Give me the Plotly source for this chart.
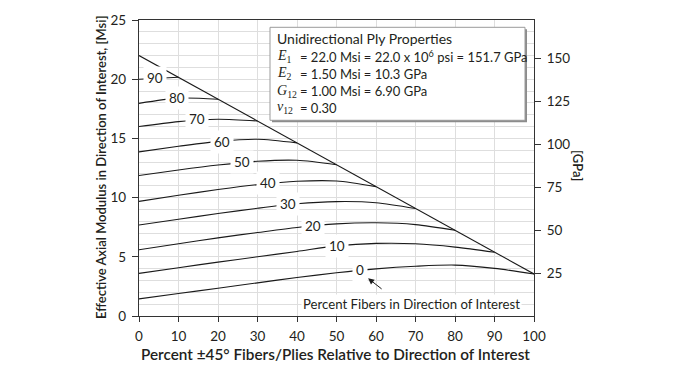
import plotly.graph_objects as go

# ---------------- data ----------------
pct_fibers = [0, 10, 20, 30, 40, 50, 60, 70, 80, 90]
curve_x = {
    0:  [0, 10, 20, 30, 40, 50, 60, 70, 80, 90, 100],
    10: [0, 10, 20, 30, 40, 50, 60, 70, 80, 90],
    20: [0, 10, 20, 30, 40, 50, 60, 70, 80],
    30: [0, 10, 20, 30, 40, 50, 60, 70],
    40: [0, 10, 20, 30, 40, 50, 60],
    50: [0, 10, 20, 30, 40, 50],
    60: [0, 10, 20, 30, 40],
    70: [0, 10, 20, 30],
    80: [0, 10, 20],
    90: [0, 10],
}
curve_y = {
    0:  [1.45, 1.9, 2.35, 2.8, 3.25, 3.65, 3.98, 4.2, 4.3, 4.02, 3.55],
    10: [3.6, 4.08, 4.55, 5.0, 5.45, 5.92, 6.13, 6.1, 5.82, 5.39],
    20: [5.6, 6.1, 6.6, 7.05, 7.48, 7.78, 7.87, 7.72, 7.24],
    30: [7.68, 8.17, 8.65, 9.1, 9.48, 9.66, 9.57, 9.08],
    40: [9.68, 10.2, 10.68, 11.1, 11.38, 11.4, 10.93],
    50: [11.86, 12.33, 12.75, 13.07, 13.15, 12.77],
    60: [13.86, 14.33, 14.75, 14.93, 14.62],
    70: [16.0, 16.42, 16.62, 16.47],
    80: [17.96, 18.4, 18.31],
    90: [20.0, 20.16],
}
# inline label positions (x, y) for each curve
label_x = [56.0, 50.0, 44.1, 37.8, 32.6, 26.2, 21.1, 14.7, 9.5, 4.0]
label_y = [3.86, 5.95, 7.6, 9.42, 11.26, 13.0, 14.72, 16.6, 18.4, 20.1]

limit_x = [0, 100]
limit_y = [22.0, 3.55]

x_ticks = [0, 10, 20, 30, 40, 50, 60, 70, 80, 90, 100]
y_ticks = [0, 5, 10, 15, 20, 25]
gpa_ticks = [25, 50, 75, 100, 125, 150]
MSI_TO_GPA = 6.894757

box_symbols = ["<i>E</i><sub>1</sub>", "<i>E</i><sub>2</sub>", "<i>G</i><sub>12</sub>", "<i>ν</i><sub>12</sub>"]
box_values = ["= 22.0 Msi = 22.0 x 10<sup>6</sup> psi = 151.7 GPa",
              "= 1.50 Msi = 10.3 GPa",
              "= 1.00 Msi = 6.90 GPa",
              "= 0.30"]
box_title = "Unidirectional Ply Properties"

# ---------------- figure ----------------
FONT = "Lato"
TXT = "#231f20"
W, H = 680, 370
L, R, T, B = 139, 146, 12, 54
PW, PH = W - L - R, H - T - B


def px2paper(px, py):
    return (px - L) / PW, (H - B - py) / PH


fig = go.Figure()

fig.add_trace(go.Scatter(x=limit_x, y=limit_y, mode="lines",
                         line=dict(color="#1a1a1a", width=1.1), hoverinfo="skip",
                         showlegend=False))
for p in pct_fibers:
    fig.add_trace(go.Scatter(x=curve_x[p], y=curve_y[p], mode="lines",
                             line=dict(color="#1a1a1a", width=1.1, shape="spline", smoothing=0.8),
                             hoverinfo="skip", showlegend=False))

# dummy trace for the right axis
fig.add_trace(go.Scatter(x=[None], y=[None], yaxis="y2", showlegend=False))

annotations = []
for p, lx, ly in zip(pct_fibers, label_x, label_y):
    annotations.append(dict(x=lx, y=ly, xref="x", yref="y", text=str(p), showarrow=False,
                            xanchor="center", yanchor="middle",
                            font=dict(family=FONT, size=13.5, color=TXT),
                            bgcolor="white", borderpad=3))

# arrow and its caption
annotations.append(dict(x=58.0, y=3.18, ax=61.8, ay=2.19, xref="x", yref="y", axref="x", ayref="y",
                        text="", showarrow=True, arrowhead=2, arrowsize=1.2, arrowwidth=1,
                        arrowcolor="#1a1a1a"))
annotations.append(dict(x=69.0, y=1.05, xref="x", yref="y", xanchor="center", yanchor="middle",
                        text="Percent Fibers in Direction of Interest", showarrow=False,
                        font=dict(family=FONT, size=13.2, color=TXT), bgcolor="white"))

# property box texts
bx, by = px2paper(275, 31)
annotations.append(dict(x=bx, y=by, xref="paper", yref="paper", xanchor="left", yanchor="middle",
                        text=box_title, showarrow=False, font=dict(family=FONT, size=14, color=TXT)))
row_y = [49, 67, 85, 102]
for sym, val, ry in zip(box_symbols, box_values, row_y):
    sx, sy = px2paper(275, ry)
    annotations.append(dict(x=sx, y=sy, xref="paper", yref="paper", xanchor="left", yanchor="middle",
                            text=sym, showarrow=False,
                            font=dict(family="Liberation Serif", size=14, color=TXT)))
    vx, vy = px2paper(297.5, ry)
    annotations.append(dict(x=vx, y=vy, xref="paper", yref="paper", xanchor="left", yanchor="middle",
                            text=val, showarrow=False, font=dict(family=FONT, size=13, color=TXT)))

# axis titles
tx, ty = px2paper(101, 163)
annotations.append(dict(x=tx, y=ty, xref="paper", yref="paper", textangle=-90,
                        xanchor="center", yanchor="middle",
                        text="Effective Axial Modulus in Direction of Interest, [Msi]",
                        showarrow=False, font=dict(family=FONT, size=13, color=TXT, weight=600)))
tx, ty = px2paper(335, 355)
annotations.append(dict(x=tx, y=ty, xref="paper", yref="paper", xanchor="center", yanchor="middle",
                        text="Percent ±45° Fibers/Plies Relative to Direction of Interest",
                        showarrow=False, font=dict(family=FONT, size=15.3, color=TXT, weight=600)))
tx, ty = px2paper(578, 161)
annotations.append(dict(x=tx, y=ty, xref="paper", yref="paper", textangle=90,
                        xanchor="center", yanchor="middle",
                        text="[GPa]", showarrow=False, font=dict(family=FONT, size=13, color=TXT, weight=600)))

# property box rectangle with a shadow
x0, y1 = px2paper(270, 19.5)
x1, y0 = px2paper(525, 115)
sx0, sy1 = px2paper(272, 21.5)
sx1, sy0 = px2paper(527, 117)
shapes = [
    dict(type="rect", xref="paper", yref="paper", x0=sx0, x1=sx1, y0=sy0, y1=sy1,
         line=dict(width=0), fillcolor="#8c8c8c", layer="above"),
    dict(type="rect", xref="paper", yref="paper", x0=x0, x1=x1, y0=y0, y1=y1,
         line=dict(color="#9a9a9a", width=1), fillcolor="white", layer="above"),
]

tickfont = dict(family=FONT, size=13.5, color=TXT)
fig.update_layout(
    width=W, height=H,
    margin=dict(l=L, r=R, t=T, b=B),
    plot_bgcolor="white", paper_bgcolor="white",
    font=dict(family=FONT, size=13, color=TXT),
    xaxis=dict(range=[0, 100], tickvals=x_ticks, ticks="outside", ticklen=5, tickwidth=1,
               tickcolor="#333333", showline=True, linecolor="#333333", linewidth=1.2,
               mirror=True, showgrid=True, gridcolor="#dedede", gridwidth=1, ticklabelstandoff=3,
               zeroline=False, tickfont=tickfont, fixedrange=True),
    yaxis=dict(range=[0, 25], tickvals=y_ticks, ticks="outside", ticklen=6, tickwidth=1,
               tickcolor="#333333", showline=True, linecolor="#333333", linewidth=1.2,
               mirror=True, showgrid=True, gridcolor="#dedede", gridwidth=1, ticklabelstandoff=3,
               zeroline=False, tickfont=tickfont, fixedrange=True,
               minor=dict(tickvals=list(range(0, 26)), showgrid=True, gridcolor="#dedede",
                          gridwidth=1, ticks="")),
    yaxis2=dict(range=[0, 25 * MSI_TO_GPA], overlaying="y", side="right", tickvals=gpa_ticks,
                ticks="outside", ticklen=6, tickwidth=1, tickcolor="#333333", showgrid=False,
                zeroline=False, showline=False, tickfont=tickfont, ticklabelstandoff=3,
                fixedrange=True),
    annotations=annotations,
    shapes=shapes,
    showlegend=False,
)

fig.write_html("out.html", config={"displayModeBar": False},
               post_script="document.body.style.margin='0';document.body.style.overflow='hidden';")
